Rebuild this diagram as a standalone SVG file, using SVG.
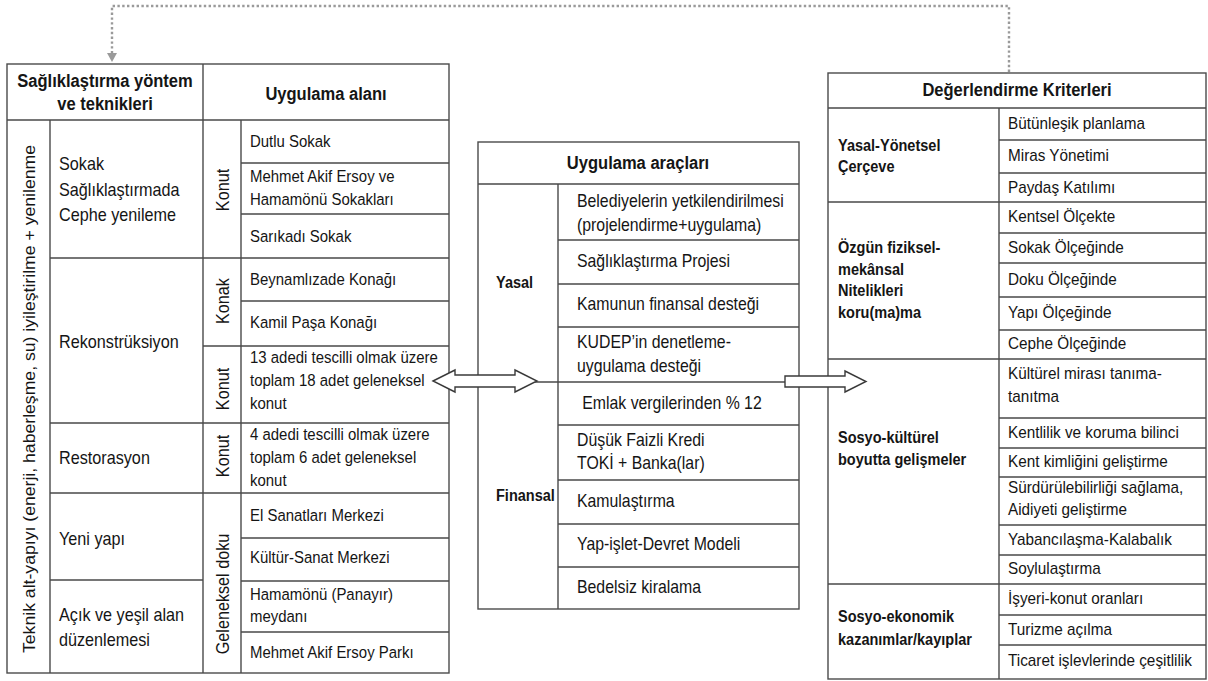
<svg xmlns="http://www.w3.org/2000/svg" width="1208" height="681" viewBox="0 0 1208 681">
<defs>
<style>
.ln{stroke:#4a4a4a;stroke-width:1.4;fill:none}
.bx{stroke:#4a4a4a;stroke-width:1.4;fill:#fff}
text{font-family:"Liberation Sans",Arial,sans-serif;fill:#151515}
.t{font-size:17px}
.r{font-size:17.4px}
.m{font-size:18px}
.k{font-size:18.4px}
.h{font-size:18.8px;font-weight:bold}
.b{font-size:16.5px;font-weight:bold}
.c{text-anchor:middle}
.dot{stroke:#9a9a9a;stroke-width:2.4;stroke-dasharray:2.4 2.4;fill:none}
.arr{fill:#fff;stroke:#3a3a3a;stroke-width:1.4}
</style>
</defs>
<rect width="1208" height="681" fill="#fff"/>

<g id="left-table">
<rect class="bx" x="7" y="64" width="442" height="609"/>
<path class="ln" d="M7,120H449 M50,120V673 M203,64V673 M241,120V673
M50,258H449 M50,423H449 M50,493H449 M50,580H203
M241,163H449 M241,214H449 M241,301H449 M203,346H449 M241,538H449 M241,581H449 M241,632H449"/>
<g transform="translate(105,0) scale(0.88,1)">
<text class="h c" x="0" y="87">Sağlıklaştırma yöntem</text>
<text class="h c" x="0" y="110">ve teknikleri</text>
</g>
<g transform="translate(326,0) scale(0.88,1)">
<text class="h c" x="0" y="100">Uygulama alanı</text>
</g>
<text class="t c" transform="translate(35,399) rotate(-90)" textLength="508" lengthAdjust="spacingAndGlyphs">Teknik alt-yapıyı (enerji, haberleşme, su) iyileştirilme + yenilenme</text>
<g transform="translate(59,0) scale(0.88,1)">
<text class="k" x="0" y="170">Sokak</text>
<text class="k" x="0" y="196">Sağlıklaştırmada</text>
<text class="k" x="0" y="221">Cephe yenileme</text>
<text class="k" x="0" y="348">Rekonstrüksiyon</text>
<text class="k" x="0" y="464">Restorasyon</text>
<text class="k" x="0" y="545">Yeni yapı</text>
<text class="k" x="0" y="621">Açık ve yeşil alan</text>
<text class="k" x="0" y="646">düzenlemesi</text>
</g>
<text class="k c" transform="translate(229,190) rotate(-90) scale(0.88,1)">Konut</text>
<text class="k c" transform="translate(229,301) rotate(-90) scale(0.88,1)">Konak</text>
<text class="k c" transform="translate(229,389) rotate(-90) scale(0.88,1)">Konut</text>
<text class="k c" transform="translate(229,456) rotate(-90) scale(0.88,1)">Konut</text>
<text class="k c" transform="translate(229,594) rotate(-90) scale(0.88,1)">Geleneksel doku</text>
<g transform="translate(250,0) scale(0.88,1)">
<text class="t" x="0" y="147">Dutlu Sokak</text>
<text class="t" x="0" y="182">Mehmet Akif Ersoy ve</text>
<text class="t" x="0" y="205">Hamamönü Sokakları</text>
<text class="t" x="0" y="242">Sarıkadı Sokak</text>
<text class="t" x="0" y="285">Beynamlızade Konağı</text>
<text class="t" x="0" y="328">Kamil Paşa Konağı</text>
<text class="t" x="0" y="363">13 adedi tescilli olmak üzere</text>
<text class="t" x="0" y="386">toplam 18 adet geleneksel</text>
<text class="t" x="0" y="409">konut</text>
<text class="t" x="0" y="440">4 adedi tescilli olmak üzere</text>
<text class="t" x="0" y="463">toplam 6 adet geleneksel</text>
<text class="t" x="0" y="486">konut</text>
<text class="t" x="0" y="521">El Sanatları Merkezi</text>
<text class="t" x="0" y="563">Kültür-Sanat Merkezi</text>
<text class="t" x="0" y="600">Hamamönü (Panayır)</text>
<text class="t" x="0" y="622">meydanı</text>
<text class="t" x="0" y="658">Mehmet Akif Ersoy Parkı</text>
</g>
</g>

<g id="middle-table">
<rect class="bx" x="478" y="142" width="321" height="467"/>
<path class="ln" d="M478,184H799 M558,184V609 M558,240H799 M558,284H799 M558,327H799 M478,382H799 M558,425H799 M558,480H799 M558,524H799 M558,567H799"/>
<g transform="translate(638,0) scale(0.88,1)">
<text class="h c" x="0" y="169">Uygulama araçları</text>
</g>
<g transform="translate(496,0) scale(0.88,1)">
<text class="b" x="0" y="288">Yasal</text>
<text class="b" x="0" y="501">Finansal</text>
</g>
<g transform="translate(577,0) scale(0.88,1)">
<text class="m" x="0" y="207">Belediyelerin yetkilendirilmesi</text>
<text class="m" x="0" y="231">(projelendirme+uygulama)</text>
<text class="m" x="0" y="267">Sağlıklaştırma Projesi</text>
<text class="m" x="0" y="310">Kamunun finansal desteği</text>
<text class="m" x="0" y="348">KUDEP’in denetleme-</text>
<text class="m" x="0" y="372">uygulama desteği</text>
<text class="m" x="6" y="409">Emlak vergilerinden % 12</text>
<text class="m" x="0" y="446">Düşük Faizli Kredi</text>
<text class="m" x="0" y="469">TOKİ + Banka(lar)</text>
<text class="m" x="0" y="507">Kamulaştırma</text>
<text class="m" x="0" y="550">Yap-işlet-Devret Modeli</text>
<text class="m" x="0" y="593">Bedelsiz kiralama</text>
</g>
</g>

<g id="right-table">
<rect class="bx" x="828" y="73" width="378" height="606"/>
<path class="ln" d="M828,108H1206 M999,108V679
M828,202H1206 M828,359H1206 M828,584H1206
M999,140H1206 M999,173H1206 M999,233H1206 M999,263H1206 M999,297H1206 M999,330H1206
M999,418H1206 M999,448H1206 M999,477H1206 M999,525H1206 M999,555H1206 M999,615H1206 M999,645H1206"/>
<g transform="translate(1017,0) scale(0.88,1)">
<text class="h c" x="0" y="96">Değerlendirme Kriterleri</text>
</g>
<g transform="translate(838,0) scale(0.88,1)">
<text class="b" x="0" y="151">Yasal-Yönetsel</text>
<text class="b" x="0" y="172">Çerçeve</text>
<text class="b" x="0" y="253">Özgün fiziksel-</text>
<text class="b" x="0" y="275">mekânsal</text>
<text class="b" x="0" y="296">Nitelikleri</text>
<text class="b" x="0" y="318">koru(ma)ma</text>
<text class="b" x="0" y="443">Sosyo-kültürel</text>
<text class="b" x="0" y="465">boyutta gelişmeler</text>
<text class="b" x="0" y="622">Sosyo-ekonomik</text>
<text class="b" x="0" y="645">kazanımlar/kayıplar</text>
</g>
<g transform="translate(1008,0) scale(0.88,1)">
<text class="r" x="0" y="129">Bütünleşik planlama</text>
<text class="r" x="0" y="161">Miras Yönetimi</text>
<text class="r" x="0" y="193">Paydaş Katılımı</text>
<text class="r" x="0" y="222">Kentsel Ölçekte</text>
<text class="r" x="0" y="253">Sokak Ölçeğinde</text>
<text class="r" x="0" y="285">Doku Ölçeğinde</text>
<text class="r" x="0" y="318">Yapı Ölçeğinde</text>
<text class="r" x="0" y="349">Cephe Ölçeğinde</text>
<text class="r" x="0" y="379">Kültürel mirası tanıma-</text>
<text class="r" x="0" y="402">tanıtma</text>
<text class="r" x="0" y="438">Kentlilik ve koruma bilinci</text>
<text class="r" x="0" y="467">Kent kimliğini geliştirme</text>
<text class="r" x="0" y="493">Sürdürülebilirliği sağlama,</text>
<text class="r" x="0" y="515">Aidiyeti geliştirme</text>
<text class="r" x="0" y="545">Yabancılaşma-Kalabalık</text>
<text class="r" x="0" y="574">Soylulaştırma</text>
<text class="r" x="0" y="604">İşyeri-konut oranları</text>
<text class="r" x="0" y="635">Turizme açılma</text>
<text class="r" x="0" y="666">Ticaret işlevlerinde çeşitlilik</text>
</g>
</g>

<g id="connectors">
<path class="dot" d="M1009,72V6H112V53"/>
<path d="M107,53L117,53L112,62Z" fill="#9a9a9a"/>
<path class="arr" d="M433,381L455,370L455,375L515,375L515,370L537,381L515,392L515,387L455,387L455,392Z"/>
<path class="arr" d="M785,376L845,376L845,371L866,381.5L845,392L845,387L785,387Z"/>
</g>
</svg>
